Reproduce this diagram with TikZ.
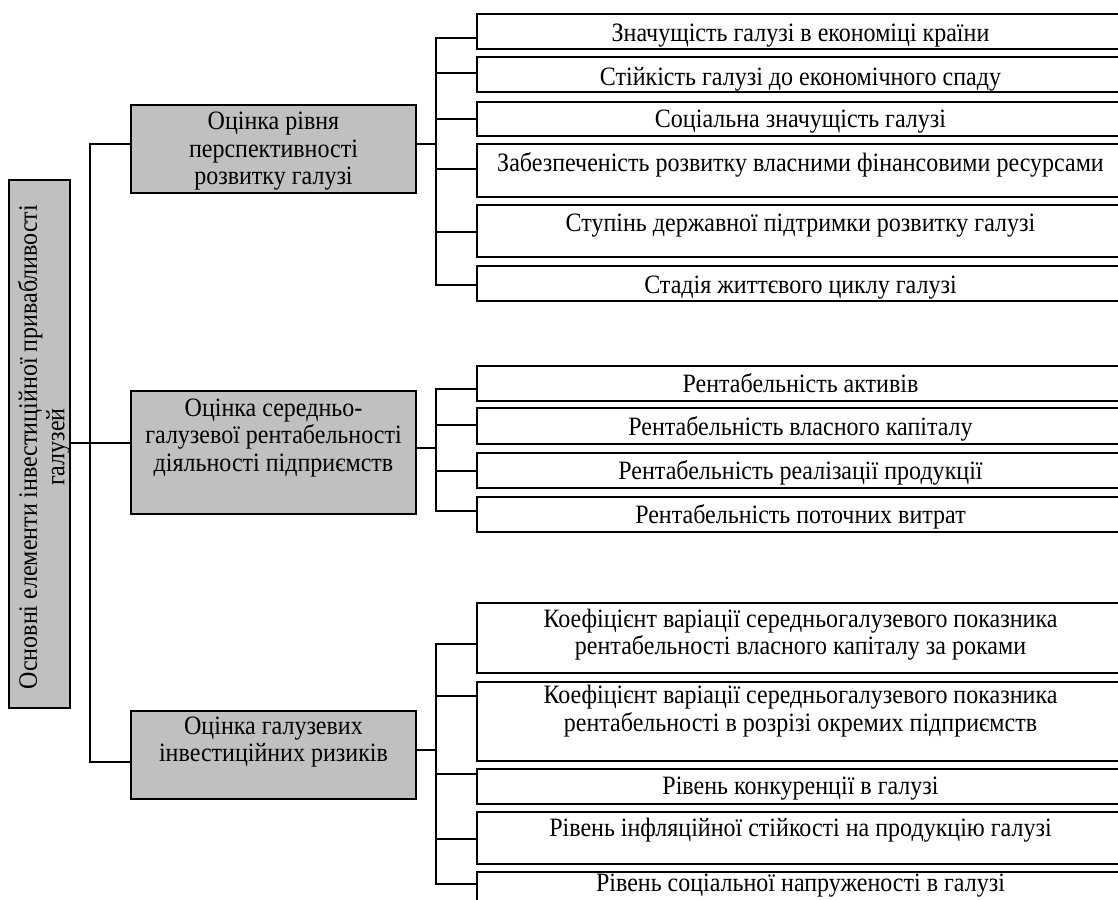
\documentclass[tikz,border=0pt]{standalone}
\usepackage{fontspec}
\setmainfont{Liberation Serif}[FakeStretch=0.906]
\definecolor{boxgray}{HTML}{C0C0C0}
\newcommand{\mlines}[1]{\begin{tabular}[t]{@{}c@{}}#1\end{tabular}}
\begin{document}
\begin{tikzpicture}[x=1pt,y=-1pt,
  box/.style={draw=black,line width=2pt,rectangle,inner sep=0pt,outer sep=0pt,anchor=north west},
  kid/.style={box,minimum width=647pt},
  lvl/.style={box,fill=boxgray,minimum width=285pt},
  con/.style={draw=black,line width=1.8pt,line join=miter},
  txt/.style={font=\fontsize{26.5}{27.5}\selectfont,inner sep=0pt,anchor=base}]
\useasboundingbox (0,0) rectangle (1118,899);
\clip (0,0) rectangle (1118,899);
\fill[white] (0,0) rectangle (1118,899);

% root
\node[box,fill=boxgray,minimum width=61pt,minimum height=528pt] (R) at (9,180) {};
\node[font=\fontsize{26.5}{27.5}\selectfont,inner sep=0pt,align=center,rotate=90] (Rt) at (44,447) {Основні елементи інвестиційної привабливості\\галузей};

% level 1
\node[lvl,minimum height=88pt] (A) at (131,105) {};
\node[txt] (At) at (273.5,129.5) {\mlines{Оцінка рівня\\перспективності\\розвитку галузі}};
\node[lvl,minimum height=123pt] (B) at (131,391) {};
\node[txt] (Bt) at (273.5,416) {\mlines{Оцінка середньо-\\галузевої рентабельності\\діяльності підприємств}};
\node[lvl,minimum height=88pt] (C) at (131,711) {};
\node[txt] (Ct) at (273.5,734) {\mlines{Оцінка галузевих\\інвестиційних ризиків}};

% group A children
\node[kid,minimum height=35pt] (a1) at (477,14) {};
\node[txt] (a1t) at (800.5,41.5) {Значущість галузі в економіці країни};
\node[kid,minimum height=35pt] (a2) at (477,57) {};
\node[txt] (a2t) at (800.5,85) {Стійкість галузі до економічного спаду};
\node[kid,minimum height=34pt] (a3) at (477,102) {};
\node[txt] (a3t) at (800.5,127.5) {Соціальна значущість галузі};
\node[kid,minimum height=53pt] (a4) at (477,144) {};
\node[txt] (a4t) at (800.5,171) {Забезпеченість розвитку власними фінансовими ресурсами};
\node[kid,minimum height=52pt] (a5) at (477,205) {};
\node[txt] (a5t) at (800.5,231.5) {Ступінь державної підтримки розвитку галузі};
\node[kid,minimum height=35pt] (a6) at (477,266) {};
\node[txt] (a6t) at (800.5,293) {Стадія життєвого циклу галузі};

% group B children
\node[kid,minimum height=35pt] (b1) at (477,366) {};
\node[txt] (b1t) at (800.5,392.5) {Рентабельність активів};
\node[kid,minimum height=36pt] (b2) at (477,408) {};
\node[txt] (b2t) at (800.5,435.5) {Рентабельність власного капіталу};
\node[kid,minimum height=35pt] (b3) at (477,453) {};
\node[txt] (b3t) at (800.5,479.5) {Рентабельність реалізації продукції};
\node[kid,minimum height=35pt] (b4) at (477,497) {};
\node[txt] (b4t) at (800.5,523.5) {Рентабельність поточних витрат};

% group C children
\node[kid,minimum height=70pt] (c1) at (477,603) {};
\node[txt] (c1t) at (800.5,627) {\mlines{Коефіцієнт варіації середньогалузевого показника\\рентабельності власного капіталу за роками}};
\node[kid,minimum height=79pt] (c2) at (477,682) {};
\node[txt] (c2t) at (800.5,703.5) {\mlines{Коефіцієнт варіації середньогалузевого показника\\рентабельності в розрізі окремих підприємств}};
\node[kid,minimum height=35pt] (c3) at (477,769) {};
\node[txt] (c3t) at (800.5,794.5) {Рівень конкуренції в галузі};
\node[kid,minimum height=52pt] (c4) at (477,812) {};
\node[txt] (c4t) at (800.5,836) {Рівень інфляційної стійкості на продукцію галузі};
\node[kid,minimum height=60pt] (c5) at (477,872) {};
\node[txt] (c5t) at (800.5,891.5) {Рівень соціальної напруженості в галузі};

% joints
\coordinate (L1) at (90,144);
\coordinate (L2) at (90,443);
\coordinate (L3) at (90,762);
\coordinate (jA0) at (436,144);
\coordinate (jA1) at (436,38);
\coordinate (jA2) at (436,73);
\coordinate (jA3) at (436,119);
\coordinate (jA4) at (436,169);
\coordinate (jA5) at (436,232);
\coordinate (jA6) at (436,285);
\coordinate (jB0) at (436,448);
\coordinate (jB1) at (436,389);
\coordinate (jB2) at (436,425);
\coordinate (jB3) at (436,471);
\coordinate (jB4) at (436,511);
\coordinate (jC0) at (436,750);
\coordinate (jC1) at (436,644);
\coordinate (jC2) at (436,696);
\coordinate (jC3) at (436,774);
\coordinate (jC4) at (436,839);
\coordinate (jC5) at (436,884);

% left connectors
\draw[con] (L1 -| A.west) -- (L1) -- (L3) -- (L3 -| C.west);
\draw[con] (R.east |- L2) -- (B.west |- L2);

% group A connectors
\draw[con] (A.east |- jA0) -- (jA0);
\draw[con] (jA1 -| a1.west) -- (jA1) -- (jA6) -- (jA6 -| a6.west);
\draw[con] (jA2) -- (jA2 -| a2.west);
\draw[con] (jA3) -- (jA3 -| a3.west);
\draw[con] (jA4) -- (jA4 -| a4.west);
\draw[con] (jA5) -- (jA5 -| a5.west);

% group B connectors
\draw[con] (B.east |- jB0) -- (jB0);
\draw[con] (jB1 -| b1.west) -- (jB1) -- (jB4) -- (jB4 -| b4.west);
\draw[con] (jB2) -- (jB2 -| b2.west);
\draw[con] (jB3) -- (jB3 -| b3.west);

% group C connectors
\draw[con] (C.east |- jC0) -- (jC0);
\draw[con] (jC1 -| c1.west) -- (jC1) -- (jC5) -- (jC5 -| c5.west);
\draw[con] (jC2) -- (jC2 -| c2.west);
\draw[con] (jC3) -- (jC3 -| c3.west);
\draw[con] (jC4) -- (jC4 -| c4.west);
\end{tikzpicture}
\end{document}
